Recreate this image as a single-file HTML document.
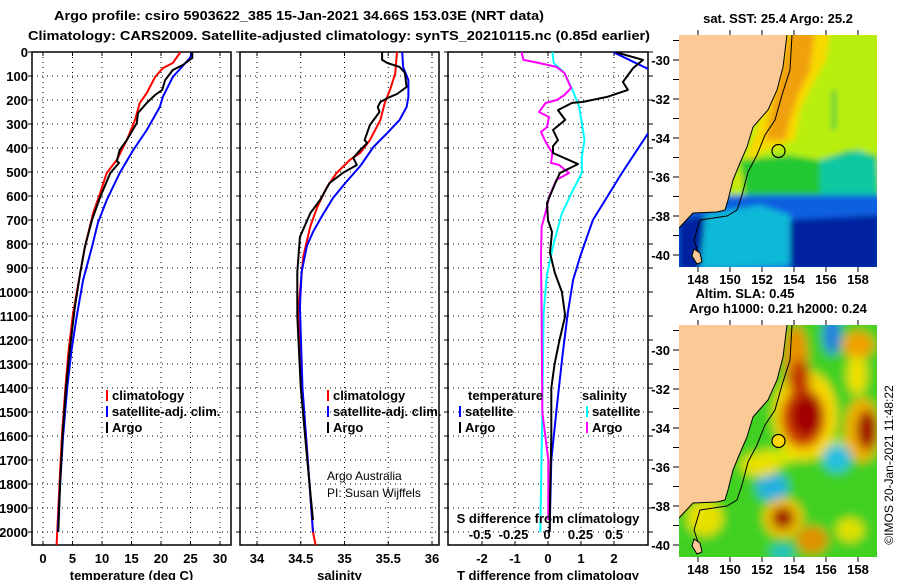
<!DOCTYPE html>
<html><head><meta charset="utf-8"><style>
body{margin:0;background:#fff;}
svg{display:block;font-family:"Liberation Sans",sans-serif;}
.b{font-weight:bold;font-size:13px;}
</style></head><body>
<svg id="fig" width="900" height="580" viewBox="0 0 900 580" xmlns="http://www.w3.org/2000/svg">
<text x="54" y="20" class="b" font-size="14" textLength="490" lengthAdjust="spacingAndGlyphs">Argo profile: csiro 5903622_385 15-Jan-2021 34.66S 153.03E (NRT data)</text>
<text x="28" y="40" class="b" font-size="14" textLength="622" lengthAdjust="spacingAndGlyphs">Climatology: CARS2009. Satellite-adjusted climatology: synTS_20210115.nc (0.85d earlier)</text>
<g id="panels"></g>
<g id="maps"></g>
<text transform="translate(893,465) rotate(-90)" text-anchor="middle" font-size="12">©IMOS 20-Jan-2021 11:48:22</text>
</svg>
<script>
// ---------- data ----------
const depthTicks=[0,100,200,300,400,500,600,700,800,900,1000,1100,1200,1300,1400,1500,1600,1700,1800,1900,2000];
const tempTicks=[0,5,10,15,20,25,30];
const salTicks=[34,34.5,35,35.5,36];
const salTickLabels=["34","34.5","35","35.5","36"];
const tdTicks=[-2,-1,0,1,2];
const sdTickLabels=["-0.5","-0.25","0","0.25","0.5"];
const sdTicks=[-0.5,-0.25,0,0.25,0.5];

const tClimDepth=[0,46,67,104,171,212,283,367,450,504,587,671,812,921,1087,1250,1400,1600,1800,2000,2055];
const tClimVal=[23.3,22,20.3,19,17.6,16.4,15.6,14.2,12.5,10.8,9.7,8.5,7.1,6.3,5.1,4.3,3.8,3.2,2.8,2.4,2.3];
const tSatDepth=[0,25,104,187,229,325,408,504,617,712,812,950,1104,1250,1400,1600,1800,2000];
const tSatVal=[25.3,24.9,22,20.3,19.8,17.6,15.3,13,10.8,9.3,8.3,6.8,5.7,4.8,4.1,3.4,2.9,2.5];
const tArgoDepth=[0,25,54,75,117,158,179,212,254,296,367,408,455,462,504,604,700,812,921,1062,1250,1400,1600,1800,2000];
const tArgoVal=[25.3,25.3,23.7,22,20.7,20.2,19,17.6,16.1,15.9,14.2,13,12.5,12.9,11.4,9.7,8.3,7.1,6.3,5.4,4.5,3.9,3.3,2.9,2.6];

const sClimDepth=[0,90,158,212,283,367,420,450,504,562,645,725,850,1000,1100,1400,1600,1800,2000,2055];
const sClimVal=[35.6,35.58,35.52,35.46,35.41,35.29,35.18,35.06,34.91,34.8,34.69,34.61,34.53,34.49,34.47,34.51,34.56,34.6,34.64,34.67];
const sSatDepth=[0,62,117,187,229,283,337,396,475,537,608,679,750,808,917,1062,1400,1600,1800,2000];
const sSatVal=[35.66,35.67,35.73,35.73,35.71,35.63,35.49,35.33,35.18,35.03,34.87,34.75,34.64,34.57,34.51,34.49,34.52,34.56,34.6,34.64];
const sArgoDepth=[0,33,46,62,87,146,175,187,208,229,250,304,367,379,408,441,471,504,546,617,671,771,917,1100,1400,1600,1800,1950];
const sArgoVal=[35.43,35.43,35.49,35.63,35.69,35.71,35.6,35.52,35.41,35.38,35.4,35.29,35.23,35.26,35.18,35.1,35.14,34.98,34.83,34.72,34.61,34.49,34.46,34.46,34.5,34.55,34.6,34.64];

const tdArgoDepth=[0,33,67,125,158,187,208,212,242,283,325,367,392,421,467,504,550,629,700,750,837,921,1000,1100,1200,1300,1400,1600,1800,2000];
const tdArgoVal=[2.03,2.88,2.58,2.27,2.42,1.79,1.06,0.73,0.3,0.52,0.15,0.3,0.15,0.15,0.91,0.36,0.21,-0.03,0,0.12,0.06,0.21,0.42,0.52,0.35,0.2,0.1,0.1,0.07,0.05];
const tdSatDepth=[0,75,325,408,504,604,700,854,950,1087,1250,1400,1500,1700,2000];
const tdSatVal=[1.97,3.1,3.1,2.7,2.24,1.79,1.36,0.97,0.76,0.6,0.45,0.33,0.25,0.1,0.05];
const sdSatDepth=[0,46,87,158,229,296,367,437,504,579,675,787,925,1087,1500,2000];
const sdSatVal=[0.04,0.05,0.13,0.19,0.24,0.26,0.28,0.26,0.26,0.19,0.11,0.055,0,-0.025,-0.035,-0.05];
const sdArgoDepth=[0,33,46,62,87,150,179,200,212,250,271,313,333,375,421,462,471,504,533,604,646,729,854,1087,1500,1700,1950];
const sdArgoVal=[-0.19,-0.175,-0.06,0.07,0.13,0.18,0.13,0.075,-0.01,-0.06,0.015,0,-0.045,-0.01,0.04,0.03,0.09,0.165,0.07,0.015,0,-0.04,-0.045,-0.04,-0.035,0.01,0.01];

// ---------- drawing ----------
const NS="http://www.w3.org/2000/svg";
const P=document.getElementById('panels');
function mk(tag,at,parent){const e=document.createElementNS(NS,tag);for(const k in at)e.setAttribute(k,at[k]);(parent||P).appendChild(e);return e;}
const yTop=52,yBot=545;
function yD(d){return yTop+d*0.24;}
const panels=[
 {x0:32,x1:231,fx:v=>43+v*5.9,ticks:tempTicks,labels:tempTicks.map(String),xlabel:"temperature (deg C)",name:"temperature"},
 {x0:240,x1:439,fx:v=>257+(v-34)*87.5,ticks:salTicks,labels:salTickLabels,xlabel:"salinity",name:"salinity"},
 {x0:448,x1:648,fx:v=>548+v*33,ticks:tdTicks,labels:tdTicks.map(String),xlabel:"T difference from climatology",name:"difference"}
];
const defs=mk('defs',{});
panels.forEach((p,i)=>{
 const cp=mk('clipPath',{id:'cp'+i},defs);
 mk('rect',{x:p.x0,y:yTop,width:p.x1-p.x0,height:yBot-yTop},cp);
 const g=mk('g',{});
 
 
 depthTicks.forEach(d=>{if(d>0){const l=mk('line',{x1:p.x0,x2:p.x1,y1:yD(d),y2:yD(d),stroke:'#000','stroke-width':1,'stroke-dasharray':'1,4'},g);
 }
 mk('line',{x1:p.x0-4,x2:p.x0,y1:yD(d),y2:yD(d),stroke:'#000'},g);
 if(i==2) mk('line',{x1:p.x1,x2:p.x1+5,y1:yD(d),y2:yD(d),stroke:'#000'},g);});
 p.ticks.forEach((v,k)=>{const x=p.fx(v);
  const l=mk('line',{x1:x,x2:x,y1:yTop,y2:yBot,stroke:'#000','stroke-dasharray':'1,4'},g);
  
  mk('line',{x1:x,x2:x,y1:yTop,y2:yTop+4,stroke:'#000'},g);
  mk('line',{x1:x,x2:x,y1:yBot,y2:yBot-4,stroke:'#000'},g);
  const t=mk('text',{x:x,y:563,'text-anchor':'middle',class:'b'},g);t.textContent=p.labels[k];
  });
 const xl=mk('text',{x:(p.x0+p.x1)/2,y:580,'text-anchor':'middle',class:'b'},g);xl.textContent=p.xlabel;
 
 mk('rect',{x:p.x0,y:yTop,width:p.x1-p.x0,height:yBot-yTop,fill:'none',stroke:'#000','stroke-width':1.5},g);
});
depthTicks.forEach(d=>{const t=mk('text',{x:28,y:yD(d)+5,'text-anchor':'end',class:'b'});t.textContent=d;
 });
function line(pi,fx,depths,vals,color,name,w){
 const pts=depths.map((d,k)=>fx(vals[k]).toFixed(1)+','+yD(d).toFixed(1)).join(' ');
 const e=mk('polyline',{points:pts,fill:'none',stroke:color,'stroke-width':w||2,'clip-path':'url(#cp'+pi+')','stroke-linejoin':'round'});
 
 
}
const f0=panels[0].fx,f1=panels[1].fx,f2=panels[2].fx,fS=v=>547+v*134;
line(0,f0,tClimDepth,tClimVal,'#f00','temperature-climatology-line');
line(0,f0,tSatDepth,tSatVal,'#00f','temperature-satellite-line');
line(0,f0,tArgoDepth,tArgoVal,'#000','temperature-argo-line');
line(1,f1,sClimDepth,sClimVal,'#f00','salinity-climatology-line');
line(1,f1,sSatDepth,sSatVal,'#00f','salinity-satellite-line');
line(1,f1,sArgoDepth,sArgoVal,'#000','salinity-argo-line');
line(2,fS,sdSatDepth,sdSatVal,'#0ff','salinity-diff-satellite-line');
line(2,fS,sdArgoDepth,sdArgoVal,'#f0f','salinity-diff-argo-line');
line(2,f2,tdSatDepth,tdSatVal,'#00f','temperature-diff-satellite-line');
line(2,f2,tdArgoDepth,tdArgoVal,'#000','temperature-diff-argo-line');
// S tick labels
sdTicks.forEach((v,k)=>{const t=mk('text',{x:fS(v),y:539,'text-anchor':'middle',class:'b'});t.textContent=sdTickLabels[k];
 });
const st=mk('text',{x:548,y:523,'text-anchor':'middle',class:'b'});st.textContent='S difference from climatology';

// legends
function leg(x,y,color,label){const g=mk('g',{});
 
 
 mk('rect',{x:x,y:y-10,width:2,height:11,fill:color},g);
 const t=mk('text',{x:x+6,y:y,class:'b'},g);t.textContent=label;}
leg(106,400,'#f00','climatology');leg(106,416,'#00f','satellite-adj. clim.');leg(106,432,'#000','Argo');
leg(327,400,'#f00','climatology');leg(327,416,'#00f','satellite-adj. clim.');leg(327,432,'#000','Argo');
leg(459,416,'#00f','satellite');leg(459,432,'#000','Argo');
leg(586,416,'#0ff','satellite');leg(586,432,'#f0f','Argo');
[[468,'temperature'],[582,'salinity']].forEach(a=>{const t=mk('text',{x:a[0],y:400,class:'b'});t.textContent=a[1];
 });
[['Argo Australia',480],['PI: Susan Wijffels',497]].forEach(a=>{const t=mk('text',{x:327,y:a[1],'font-size':12},);t.textContent=a[0];
 });

// ---------- maps ----------
const M=document.getElementById('maps');
function mm(tag,at,parent){const e=document.createElementNS(NS,tag);for(const k in at)e.setAttribute(k,at[k]);(parent||M).appendChild(e);return e;}
const coast="787,35 783,67 777,90 768,110 753,127 747,147 740,163 733,180 728,200 725,210 717,212 693,213 679,228";
const iso="792,35 790,70 782,95 775,120 765,135 757,155 748,172 742,195 737,210 727,216 700,220 694,240 700,258";
function drawMap(oy,kind,title){
 const g=mm('g',{});
 
 
 const cid='mc'+kind;
 const cp=mm('clipPath',{id:cid},defs);mm('rect',{x:679,y:35,width:198,height:232},cp);
 const blur=mm('filter',{id:'bl'+kind,x:'-20%',y:'-20%',width:'140%',height:'140%'},defs);
 mm('feGaussianBlur',{stdDeviation:kind=='sst'?3:5},blur);
 const outer=mm('g',{transform:'translate(0,'+oy+')'},g);
 const inner=mm('g',{'clip-path':'url(#'+cid+')'},outer);
 const b=mm('g',{filter:'url(#bl'+kind+')'},inner);
 if(kind=='sst'){
  mm('rect',{x:670,y:25,width:220,height:260,fill:'#b8ee10'},b);
  mm('polygon',{points:'785,30 830,30 826,60 812,85 800,110 795,140 760,152 745,175 735,190 760,120',fill:'#f8d800'},b);
  mm('polygon',{points:'790,30 815,30 810,70 798,95 790,120 785,140 765,140 770,115',fill:'#f0a010'},b);
  mm('polygon',{points:'740,160 790,155 820,160 850,150 877,155 880,195 850,200 745,200',fill:'#20c830'},b);
  mm('polygon',{points:'820,160 860,150 877,160 877,195 820,195',fill:'#10c8a0'},b);
  mm('rect',{x:670,y:195,width:220,height:80,fill:'#1060e0'},b);
  mm('polygon',{points:'700,215 760,205 790,215 800,265 690,270',fill:'#10b8d8'},b);
  mm('polygon',{points:'790,220 880,215 880,270 790,270',fill:'#0020a0'},b);
  mm('polygon',{points:'679,220 705,215 700,270 679,270',fill:'#0020a0'},b);
  mm('rect',{x:832,y:90,width:4,height:40,fill:'#30c840'},b);
 } else {
  mm('rect',{x:670,y:25,width:220,height:260,fill:'#40d020'},b);
  mm('polygon',{points:'760,160 790,160 830,150 850,150 850,165 800,170 760,180',fill:'#d8e800'},b);
  const blobs=[[805,125,32,45,'#f8d800'],[803,128,22,30,'#d04000'],[806,125,15,22,'#a00000'],
   [796,70,12,35,'#e89000'],[800,90,10,20,'#c03000'],[862,140,18,32,'#f0b000'],[867,140,10,20,'#a00000'],[858,55,16,14,'#f0a000'],
   [832,45,9,20,'#2080e0'],[837,168,14,14,'#20c0e0'],[772,197,16,14,'#20b0e0'],
   [783,228,20,20,'#f0c000'],[783,228,11,11,'#a01000'],[812,250,16,14,'#e09000'],
   [760,175,20,12,'#e8e000'],[705,228,18,18,'#e8e000'],[850,240,14,12,'#e0e000'],[782,262,12,8,'#20c0c0'],[857,85,10,20,'#f0e000']];
  blobs.forEach(q=>mm('ellipse',{cx:q[0],cy:q[1],rx:q[2],ry:q[3],fill:q[4]},b));
 }
 mm('polygon',{points:'679,35 '+coast+' 679,228',fill:'#fbc995'},inner);
 mm('polyline',{points:coast,fill:'none',stroke:'#000','stroke-width':1},inner);
 mm('polyline',{points:iso,fill:'none',stroke:'#000','stroke-width':1},inner);
 mm('polygon',{points:'694,249 700,253 702,262 697,264 692,256',fill:'#fbc995',stroke:'#000'},inner);
 const mk2=mm('circle',{cx:778.5,cy:151,r:6.5,fill:kind=='sst'?'none':'#ffd700',stroke:'#000','stroke-width':1.2},inner);
 
 
 for(let la=-29;la>=-40;la--){const y=oy+60+(-la-30)*19.5;mm('line',{x1:673,x2:679,y1:y,y2:y,stroke:'#000'},g);
  if(la%2==0){const t=mm('text',{x:670,y:y+5,'text-anchor':'end',class:'b'},g);t.textContent=la;}}
 for(let lo=148;lo<=158;lo+=2){const x=698+(lo-148)*16;
  mm('line',{x1:x,x2:x,y1:oy+30,y2:oy+35,stroke:'#000'},g);mm('line',{x1:x,x2:x,y1:oy+267,y2:oy+272,stroke:'#000'},g);
  const t=mm('text',{x:x,y:oy+284,'text-anchor':'middle',class:'b'},g);t.textContent=lo;}
 const tt=mm('text',{x:778,y:oy+23,'text-anchor':'middle',class:'b','font-size':12},g);tt.textContent=title;
}
drawMap(0,'sst','sat. SST: 25.4 Argo: 25.2');
drawMap(290,'sla','Argo h1000: 0.21 h2000: 0.24');
const al=mm('text',{x:745,y:298,'text-anchor':'middle',class:'b','font-size':12});al.textContent='Altim. SLA: 0.45';

</script>
</body></html>
